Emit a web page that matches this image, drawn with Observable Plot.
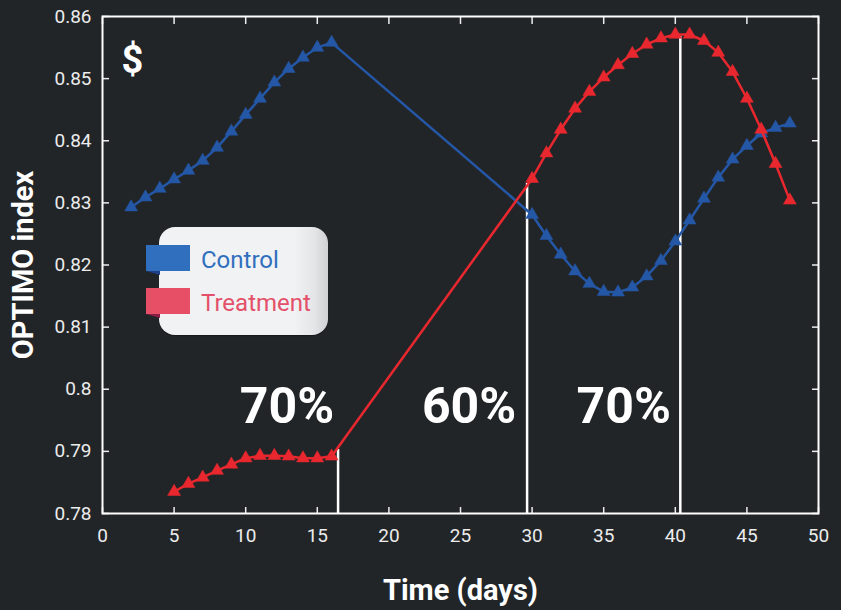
<!DOCTYPE html>
<html>
<head>
<meta charset="utf-8">
<script src="https://cdn.jsdelivr.net/npm/d3@7"></script>
<script src="https://cdn.jsdelivr.net/npm/@observablehq/plot@0.6"></script>
<style>
  html, body { margin: 0; padding: 0; background: #222528; }
  #wrap { position: relative; width: 841px; height: 610px; background: #222528; overflow: hidden; }
  #legend { position: absolute; left: 159px; top: 227px; width: 169px; height: 108px; border-radius: 16px;
    background: linear-gradient(to right, #f1f2f4 0%, #f1f2f4 80%, #e4e5e7 92%, #cfd0d2 100%);
    box-shadow: 0 1px 1px rgba(0,0,0,0.35); }
  .sw { position: absolute; left: 146px; width: 44px; height: 26px; }
  .fold { position: absolute; left: 146px; width: 14px; height: 4px; clip-path: polygon(0 0, 100% 0, 100% 100%); }
  .lt { position: absolute; left: 201px; font-family: Roboto, sans-serif; font-size: 24px; line-height: 1; }
</style>
</head>
<body>
<div id="wrap">
  <div id="chart"></div>
  <div id="legend"></div>
  <div class="sw" style="top:245px;background:#306fbd;"></div>
  <div class="fold" style="top:271px;background:#1f3f86;"></div>
  <div class="sw" style="top:288px;background:#e74f66;"></div>
  <div class="fold" style="top:314px;background:#8a1f45;"></div>
  <div class="lt" id="lc" style="top:248px;color:#306fbd;"></div>
  <div class="lt" id="lt" style="top:291px;color:#e4506a;"></div>
</div>
<script>
// ---- data ----
const seriesNames = ["Control", "Treatment"];

const controlDays = [2,3,4,5,6,7,8,9,10,11,12,13,14,15,16,
  30,31,32,33,34,35,36,37,38,39,40,41,42,43,44,45,46,47,48];
const controlValues = [0.8293,0.8309,0.8323,0.8338,0.8352,0.8368,0.8389,0.8415,0.8442,0.8468,0.8494,0.8516,0.8534,0.8550,0.8558,
  0.8281,0.8247,0.8217,0.8190,0.8170,0.8157,0.8156,0.8164,0.8182,0.8207,0.8238,0.8272,0.8307,0.8341,0.8370,0.8392,0.8412,0.8421,0.8428];

const treatmentDays = [5,6,7,8,9,10,11,12,13,14,15,16,
  30,31,32,33,34,35,36,37,38,39,40,41,42,43,44,45,46,47,48];
const treatmentValues = [0.7835,0.7848,0.7858,0.7869,0.7879,0.7889,0.7893,0.7893,0.7892,0.7889,0.7889,0.7892,
  0.8339,0.8380,0.8418,0.8452,0.8479,0.8502,0.8522,0.8540,0.8555,0.8565,0.8571,0.8571,0.8561,0.8542,0.8511,0.8468,0.8418,0.8363,0.8304];

// phase boundaries (day, index value at top of marker line)
const phaseDays = [16.45, 29.65, 40.35];
const phaseTops = [0.7903, 0.8331, 0.8568];

// phase labels (day, index value)
const phaseLabels = ["70%", "60%", "70%"];
const phaseLabelDays = [12.88, 25.6, 36.4];
const phaseLabelValues = [0.7945, 0.7945, 0.7945];

const xTicks = [0,5,10,15,20,25,30,35,40,45,50];
const yTicks = [0.78,0.79,0.80,0.81,0.82,0.83,0.84,0.85,0.86];

const titleSymbol = "$";
const xLabel = "Time (days)";
const yLabel = "OPTIMO index";

// ---- build tables ----
const control = controlDays.map((d, i) => ({day: d, value: controlValues[i]}));
const treatment = treatmentDays.map((d, i) => ({day: d, value: treatmentValues[i]}));
const phases = phaseDays.map((d, i) => ({day: d, top: phaseTops[i], base: 0.78}));
const labels = phaseLabels.map((t, i) => ({text: t, day: phaseLabelDays[i], value: phaseLabelValues[i]}));

const blue = "#2457a6", red = "#e8282e";
const fmt = d => String(+d.toFixed(2));

const chart = Plot.plot({
  width: 841,
  height: 610,
  marginLeft: 102,
  marginRight: 23,
  marginTop: 16,
  marginBottom: 97,
  style: {background: "transparent", color: "#ececec", fontFamily: "Roboto, sans-serif", fontSize: "19px", overflow: "visible"},
  x: {domain: [0, 50]},
  y: {domain: [0.78, 0.86]},
  marks: [
    Plot.axisX(xTicks, {anchor: "bottom", tickSize: -6, tickPadding: 21, strokeWidth: 1.5, label: null, tickFormat: fmt}),
    Plot.axisX(xTicks, {anchor: "top", tickSize: -7, strokeWidth: 1.5, label: null, tickFormat: () => ""}),
    Plot.axisY(yTicks, {anchor: "left", tickSize: -7, tickPadding: 18, strokeWidth: 1.5, label: null, tickFormat: fmt}),
    Plot.axisY(yTicks, {anchor: "right", tickSize: -7, strokeWidth: 1.5, label: null, tickFormat: () => ""}),
    Plot.frame({stroke: "white", strokeWidth: 2}),
    Plot.ruleX(phases, {x: "day", y1: "base", y2: "top", stroke: "white", strokeWidth: 2.5}),
    Plot.line(control, {x: "day", y: "value", stroke: blue, strokeWidth: 2.5}),
    Plot.dot(control, {x: "day", y: "value", symbol: "triangle", r: 4.8, fill: blue, stroke: blue, strokeWidth: 0.5}),
    Plot.line(treatment, {x: "day", y: "value", stroke: red, strokeWidth: 2.5}),
    Plot.dot(treatment, {x: "day", y: "value", symbol: "triangle", r: 4.8, fill: red, stroke: red, strokeWidth: 0.5}),
    Plot.text(labels, {x: "day", y: "value", text: "text", lineAnchor: "bottom", fontSize: 50, fontWeight: "bold", fill: "white"}),
    Plot.text([titleSymbol], {frameAnchor: "top-left", textAnchor: "middle", dx: 30, dy: 30, fontSize: 38, fontWeight: "bold", fill: "white"}),
    Plot.text([xLabel], {frameAnchor: "bottom", textAnchor: "middle", dy: 86, lineAnchor: "bottom", fontSize: 29, fontWeight: "bold", fill: "white"}),
    Plot.text([yLabel], {frameAnchor: "left", textAnchor: "middle", dx: -79, rotate: -90, fontSize: 29, fontWeight: "bold", fill: "white"})
  ]
});
document.getElementById("chart").appendChild(chart);
document.getElementById("lc").textContent = seriesNames[0];
document.getElementById("lt").textContent = seriesNames[1];
</script>
</body>
</html>
